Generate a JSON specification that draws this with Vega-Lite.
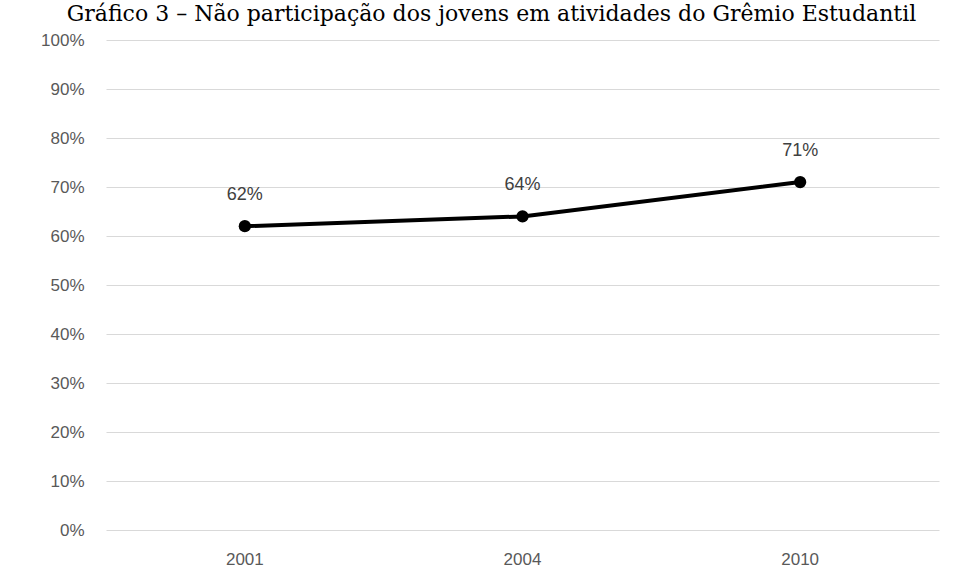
{
  "$schema": "https://vega.github.io/schema/vega-lite/v6.json",
  "width": 833,
  "height": 490,
  "padding": {"left": 40, "top": 3, "right": 5, "bottom": 5},
  "background": "white",
  "title": {
    "text": "Gráfico 3 – Não participação dos jovens em atividades do Grêmio Estudantil",
    "font": "DejaVu Serif",
    "fontSize": 22,
    "fontWeight": "normal",
    "color": "#000000",
    "anchor": "middle",
    "offset": 2,
    "dx": -31,
    "dy": -3
  },
  "data": {
    "values": [
      {"ano": "2001", "valor": 0.62},
      {"ano": "2004", "valor": 0.64},
      {"ano": "2010", "valor": 0.71}
    ]
  },
  "encoding": {
    "x": {
      "field": "ano",
      "type": "ordinal",
      "scale": {"type": "band", "paddingInner": 0, "paddingOuter": 0},
      "axis": {
        "title": null,
        "labelAngle": 0,
        "labelFont": "Liberation Sans",
        "labelFontSize": 17,
        "labelColor": "#595959",
        "labelPadding": 21,
        "domain": false,
        "ticks": false,
        "grid": false
      }
    },
    "y": {
      "field": "valor",
      "type": "quantitative",
      "scale": {"domain": [0, 1]},
      "axis": {
        "title": null,
        "format": ".0%",
        "values": [0, 0.1, 0.2, 0.3, 0.4, 0.5, 0.6, 0.7, 0.8, 0.9, 1.0],
        "labelFont": "Liberation Sans",
        "labelFontSize": 17,
        "labelColor": "#595959",
        "labelPadding": 22,
        "domain": false,
        "ticks": false,
        "grid": true,
        "gridColor": "#d9d9d9",
        "gridWidth": 1
      }
    }
  },
  "layer": [
    {
      "mark": {"type": "line", "color": "#000000", "strokeWidth": 4, "point": {"filled": true, "color": "#000000", "size": 150}}
    },
    {
      "mark": {"type": "text", "dy": -31, "font": "Liberation Sans", "fontSize": 18, "color": "#404040"},
      "encoding": {"text": {"field": "valor", "type": "quantitative", "format": ".0%"}}
    }
  ],
  "config": {"view": {"stroke": null}}
}
